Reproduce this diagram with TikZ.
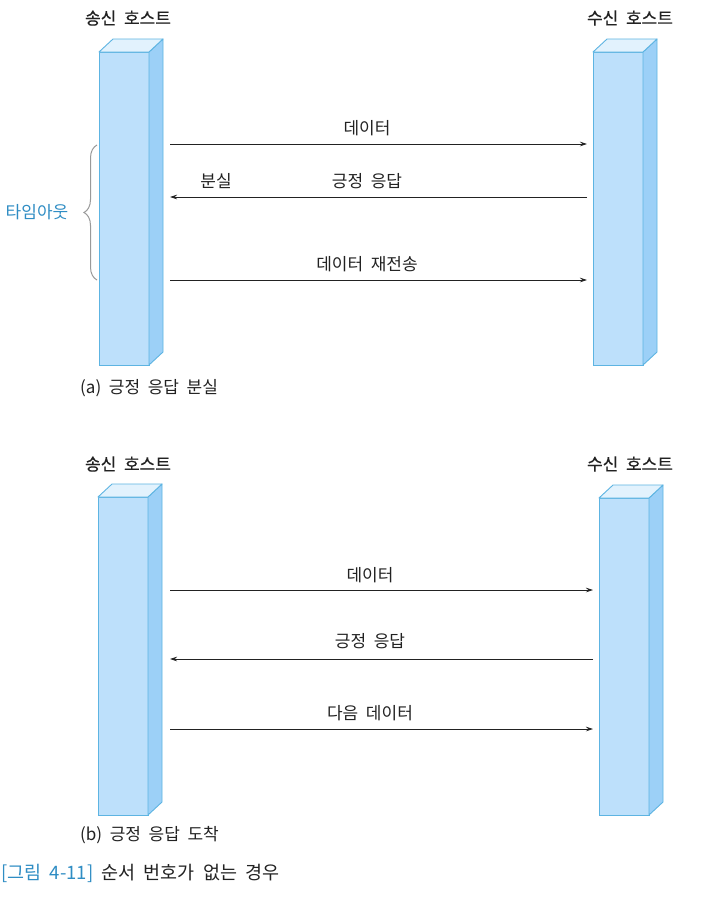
\documentclass[tikz,border=0pt]{standalone}
\usepackage{fontspec}
\setmainfont[WordSpace=2]{Noto Sans CJK KR}
\newfontfamily\titlefont[WordSpace=2,FakeBold=0.5]{Noto Sans CJK KR}
\usetikzlibrary{arrows.meta,decorations.pathreplacing}
\definecolor{frontc}{HTML}{BDE0FB}
\definecolor{sidec}{HTML}{9CD0F7}
\definecolor{topc}{HTML}{E2F2FD}
\definecolor{edgec}{HTML}{5DB4E2}
\definecolor{txtc}{HTML}{222222}
\definecolor{bluet}{HTML}{2F8DC4}
\definecolor{bracec}{HTML}{9A9A9A}
\tikzset{
  front/.style={draw=edgec, fill=frontc, line width=0.9pt, inner sep=0pt, outer sep=0pt, anchor=north west},
  sideface/.style={draw=edgec, fill=sidec, line width=0.9pt, line join=round},
  topface/.style={draw=edgec, fill=topc, line width=0.9pt, line join=round},
  lbl/.style={text=txtc, font=\fontsize{17}{20}\selectfont, inner sep=0pt},
  ttl/.style={text=txtc, font=\titlefont\fontsize{17}{20}\selectfont, inner sep=0pt},
  arr/.style={draw=txtc, line width=0.7pt, -{Stealth[length=7pt,width=4.5pt]}},
  captext/.style={text=txtc, font=\fontsize{17}{20}\selectfont, inner sep=0pt, anchor=west},
  figcap/.style={text=txtc, font=\fontsize{18.5}{22}\selectfont, inner sep=0pt, anchor=west},
}
\newcommand\hostbox[5]{%
  \node[front, minimum width=#5pt, minimum height={(#4-#3)*1pt}] (#1) at (#2,#3) {};
  \filldraw[sideface] (#1.north east) -- ++(14pt,13pt) -- ([shift={(14pt,13pt)}]#1.south east) -- (#1.south east) -- cycle;
  \filldraw[topface] (#1.north west) -- ++(14pt,13pt) -- ++(#5pt,0pt) -- (#1.north east) -- cycle;
}
\begin{document}
\begin{tikzpicture}[x=1pt,y=-1pt]
\useasboundingbox (0,0) rectangle (716,897);
\fill[white] (0,0) rectangle (716,897);

% ---------- (a) ----------
\node[ttl] (sa) at (128,18) {송신 호스트};
\node[ttl] (ra) at (630,18) {수신 호스트};
\hostbox{LA}{99}{52}{365}{50}
\hostbox{RA}{593}{52}{365}{50}

\coordinate (a1s) at (170,144);
\coordinate (a1e) at (587,144);
\coordinate (a2s) at (587,197);
\coordinate (a2e) at (170,197);
\coordinate (a3s) at (170,280);
\coordinate (a3e) at (587,280);
\draw[arr] (a1s) -- (a1e);
\draw[arr] (a2s) -- (a2e);
\draw[arr] (a3s) -- (a3e);
\node[lbl] (la1) at (367,128) {데이터};
\node[lbl] (la2) at (367,181) {긍정 응답};
\node[lbl] (la2b) at (216,181) {분실};
\node[lbl] (la3) at (367,264) {데이터 재전송};

\coordinate (bb) at (97,280);
\coordinate (bt) at (97,145);
\draw[bracec, line width=1pt, decorate, decoration={brace, amplitude=13pt}] (bb) -- (bt);
\node[lbl, text=bluet] (to) at (37,212) {타임아웃};

\node[captext] (capa) at (80,388) {(a) 긍정 응답 분실};

% ---------- (b) ----------
\node[ttl] (sb) at (128,464) {송신 호스트};
\node[ttl] (rb) at (630,464) {수신 호스트};
\hostbox{LB}{98}{497}{815}{50}
\hostbox{RB}{599}{498}{815}{50}

\coordinate (b1s) at (170,590);
\coordinate (b1e) at (593,590);
\coordinate (b2s) at (593,659);
\coordinate (b2e) at (170,659);
\coordinate (b3s) at (170,729);
\coordinate (b3e) at (593,729);
\draw[arr] (b1s) -- (b1e);
\draw[arr] (b2s) -- (b2e);
\draw[arr] (b3s) -- (b3e);
\node[lbl] (lb1) at (370,575) {데이터};
\node[lbl] (lb2) at (370,641) {긍정 응답};
\node[lbl] (lb3) at (370,713) {다음 데이터};

\node[captext] (capb) at (80,835) {(b) 긍정 응답 도착};

\node[figcap] (fig) at (1,873) {\textcolor{bluet}{[그림 4-11]} 순서 번호가 없는 경우};
\end{tikzpicture}
\end{document}
